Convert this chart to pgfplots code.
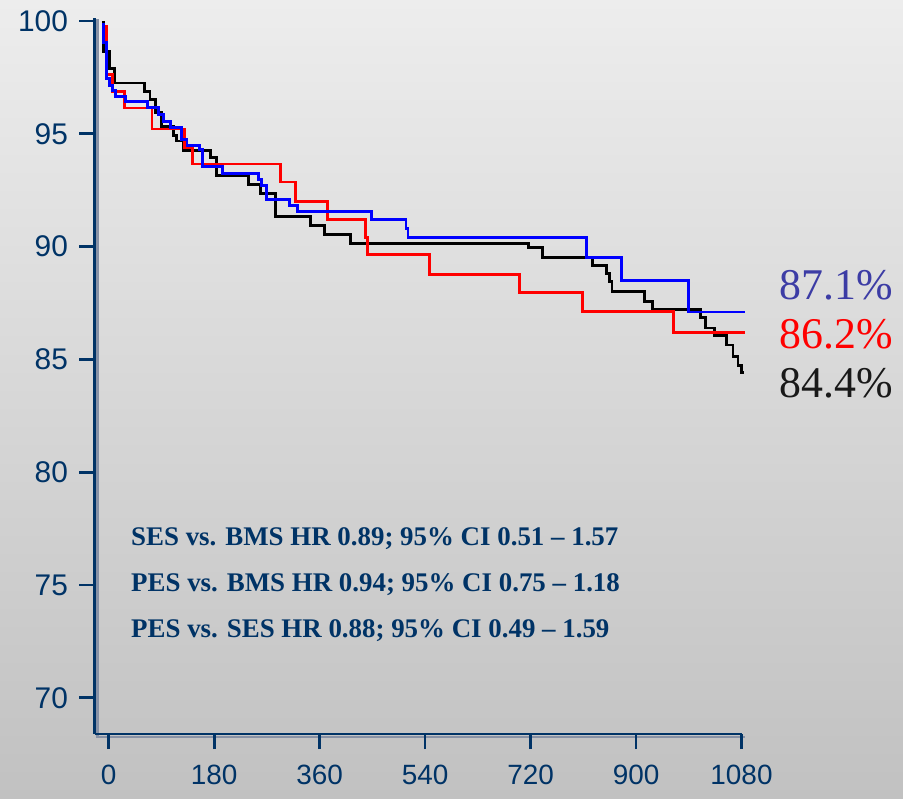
\documentclass[border=0pt]{standalone}
\usepackage{fontspec}
\setmainfont{Liberation Serif}
\newfontfamily\arialfont{Liberation Sans}
\usepackage{pgfplots}
\pgfplotsset{compat=1.18}
\usepackage{pgfplotstable}

\definecolor{navy}{RGB}{0,51,102}
\definecolor{shadowgray}{RGB}{135,145,165}
\definecolor{bgtop}{RGB}{237,237,237}
\definecolor{bgbot}{RGB}{193,193,193}
\definecolor{sesblue}{RGB}{0,0,255}
\definecolor{pesred}{RGB}{255,0,0}
\definecolor{lblblue}{RGB}{60,60,165}
\definecolor{lblblack}{RGB}{25,25,25}

% Kaplan-Meier estimates (days, event-free survival in %)
\pgfplotstableread{
day surv
-9 100
-9 98.65
0.8 97.91
10 97.25
61.5 96.89
70.5 96.52
80 95.95
90.5 95.33
110.6 94.93
116 94.68
127.3 94.27
174 93.93
183.6 93.14
239 92.77
259.5 92.37
284.4 91.34
344.4 90.95
368.3 90.55
412.7 90.15
716.5 89.95
741 89.53
826 89.15
849 88.8
855 88.45
859 88.01
914 87.58
928.7 87.2
1010 86.87
1017.8 86.39
1034 86.05
1054 85.64
1065.5 85.12
1074 84.75
1079.4 84.4
1085 84.4
}\bms

\pgfplotstableread{
day surv
-4 99.8
-4 97.62
6.5 96.88
26.5 96.14
74 95.21
130 94.41
142.6 93.66
293.8 92.86
319 91.98
373.8 91.21
438 90.42
441.7 89.65
547.5 88.75
700.6 87.97
808 87.13
963.7 86.2
1086 86.2
}\pes

\pgfplotstableread{
day surv
-9 99.9
-9 99.05
-4 97.44
1 97.15
6 96.93
11 96.67
29 96.44
66 96.15
85 95.84
93.5 95.55
105 95.27
124.6 94.74
133.6 94.49
155 94.3
160 93.55
195 93.25
256 92.98
260.5 92.7
269 92.08
308.6 91.81
323 91.57
448 91.21
507.4 90.82
510.8 90.42
815 89.53
875.6 88.5
989.6 87.1
1086 87.1
}\ses

\begin{document}
\begin{tikzpicture}
\shade[top color=bgtop,bottom color=bgbot] (0bp,0bp) rectangle (903bp,799bp);
% soft drop shadow behind the axis lines
\draw[shadowgray, line width=2.5bp, line cap=rect]
  (97.3bp,779bp) -- (97.3bp,62.2bp) -- (743.5bp,62.2bp);
\begin{axis}[
  at={(94.5bp,65bp)}, anchor=south west,
  scale only axis, width=647bp, height=716bp,
  xmin=-24.2, xmax=1080, ymin=68.4, ymax=100.13,
  axis lines=left,
  axis line style={-, draw=navy, line width=2.8bp},
  xtick={0,180,...,1080}, ytick={70,75,...,100},
  scaled ticks=false,
  tick align=outside, major tick length=15bp,
  tick style={draw=navy, line width=2.8bp},
  yticklabel style={font=\arialfont\fontsize{30}{30}\selectfont, text=navy,
    xshift=-8bp},
  xticklabel style={font=\arialfont\fontsize{28}{28}\selectfont, text=navy,
    yshift=-12bp},
  /pgf/number format/assume math mode=true,
  /pgf/number format/1000 sep={},
  clip=false,
  every axis plot/.append style={const plot, line width=2.9bp, mark=none},
]
\addplot[black] table[x=day, y=surv] {\bms};
\addplot[pesred] table[x=day, y=surv] {\pes};
\addplot[sesblue] table[x=day, y=surv] {\ses};
\end{axis}

\begin{scope}[every node/.style={inner sep=0pt, anchor=base west, text=navy,
    font=\bfseries\fontsize{27}{27}\selectfont}]
\node at (131bp,253bp) {SES vs. BMS HR 0.89; 95\% CI 0.51 -- 1.57};
\node at (131bp,207bp) {PES vs. BMS HR 0.94; 95\% CI 0.75 -- 1.18};
\node at (131bp,161bp) {PES vs. SES HR 0.88; 95\% CI 0.49 -- 1.59};
\end{scope}

\begin{scope}[every node/.style={inner sep=0pt, anchor=base east,
    font=\fontsize{44}{44}\selectfont}]
\node[text=lblblue] at (893bp,499bp) {87.1\%};
\node[text=pesred] at (893bp,450bp) {86.2\%};
\node[text=lblblack] at (893bp,401bp) {84.4\%};
\end{scope}
\end{tikzpicture}
\end{document}
